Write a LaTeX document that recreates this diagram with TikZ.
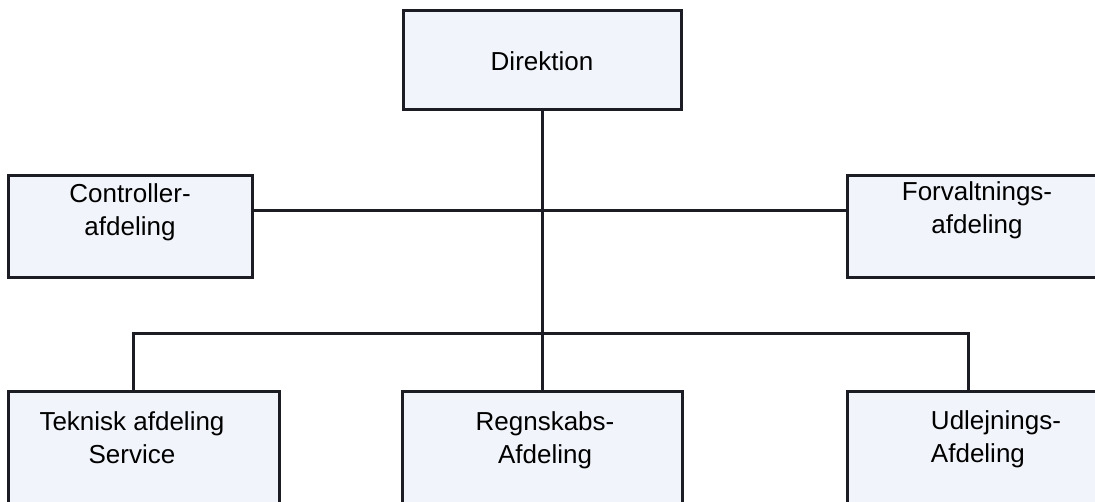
\documentclass[tikz,border=0pt]{standalone}
\usepackage{fontspec}
\setmainfont{Liberation Sans}
\usepackage{tikz}
\usepackage{xcolor}
\definecolor{boxfill}{RGB}{241,244,250}
\definecolor{boxline}{RGB}{28,28,36}

\begin{document}
\begin{tikzpicture}[x=0.5pt,y=-0.5pt,
  orgbox/.style={draw=boxline,fill=boxfill,line width=1.5pt,rectangle,inner sep=0pt},
  orgtxt/.style={anchor=north,inner sep=0pt,align=center,text=black,font=\fontsize{13}{16.5}\selectfont},
  orgline/.style={draw=boxline,line width=1.5pt}]
\useasboundingbox (0,0) rectangle (1095,502);
\clip (0,0) rectangle (1095,502);
\node[orgbox,minimum width=139pt,minimum height=49.5pt] (dir) at (542,60.5) {};
\node[orgbox,minimum width=122pt,minimum height=50.5pt] (ctrl) at (130,226.5) {};
\node[orgbox,minimum width=130pt,minimum height=50.5pt] (forv) at (977,226.5) {};
\node[orgbox,minimum width=135.5pt,minimum height=70pt] (tek) at (143.5,461) {};
\node[orgbox,minimum width=140pt,minimum height=70pt] (regn) at (542,461) {};
\node[orgbox,minimum width=130pt,minimum height=70pt] (udl) at (977,461) {};
\node[orgtxt] (dir-txt) at (542,51.4) {Direktion};
\node[orgtxt] (ctrl-txt) at (130,183.4) {Controller-\\afdeling};
\node[orgtxt] (forv-txt) at (977,181.5) {Forvaltnings-\\afdeling};
\node[orgtxt] (tek-txt) at (132,411.4) {Teknisk afdeling\\Service};
\node[orgtxt] (regn-txt) at (545,411.4) {Regnskabs-\\Afdeling};
\node[orgtxt,align=left] (udl-txt) at (996,410.5) {Udlejnings-\\Afdeling};
\coordinate (mid) at (542,210);
\coordinate (busL) at (133,333);
\coordinate (busR) at (968,333);
\draw[orgline] (dir) -- (regn);
\draw[orgline] (ctrl.east |- mid) -- (forv.west |- mid);
\draw[orgline] (tek.north -| busL) -- (busL) -- (busR) -- (udl.north -| busR);
\end{tikzpicture}
\end{document}
